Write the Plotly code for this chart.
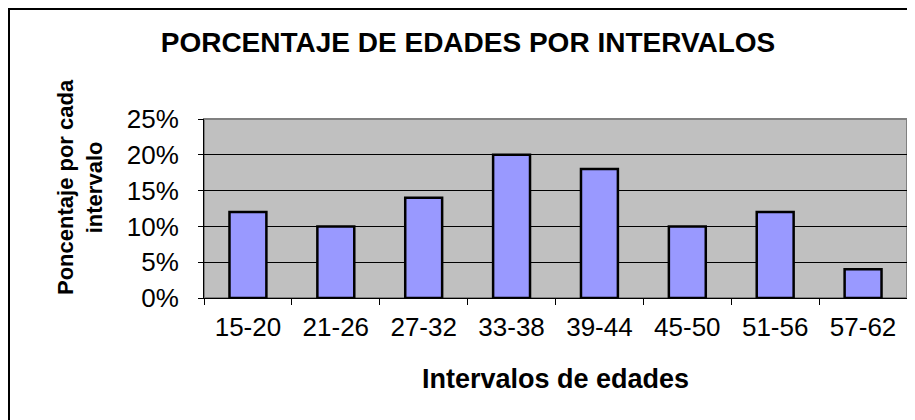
import plotly.graph_objects as go

categories = ["15-20", "21-26", "27-32", "33-38", "39-44", "45-50", "51-56", "57-62"]
values = [0.12, 0.10, 0.14, 0.20, 0.18, 0.10, 0.12, 0.04]
y_ticks = [0, 0.05, 0.10, 0.15, 0.20, 0.25]

title_text = "PORCENTAJE DE EDADES POR INTERVALOS"
x_title = "Intervalos de edades"
y_title = "Poncentaje por cada<br>intervalo"

FONT = "Liberation Sans, Arial, sans-serif"

# page offset (body margin) compensation
OFF = 8
W, H = 915, 420
L, R, T, B = 204 - OFF, 907 - OFF, 119 - OFF, 298 - OFF
pw, ph = R - L, B - T

def px_x(x):
    return (x - OFF - L) / pw

def px_y(y):
    return (B - (y - OFF)) / ph

fig = go.Figure()
fig.add_trace(go.Bar(
    x=categories, y=values, width=0.42,
    marker=dict(color="#9999FF", line=dict(color="#000000", width=2.5)),
))

fig.update_layout(
    width=W, height=H,
    margin=dict(l=L, r=W - R, t=T, b=H - B, pad=0),
    paper_bgcolor="#FFFFFF",
    plot_bgcolor="#C0C0C0",
    showlegend=False,
    font=dict(family=FONT, color="#000000"),
    title=dict(text="<b>" + title_text + "</b>", x=(468 - OFF) / W, xanchor="center",
               y=1 - (42 - OFF) / H, yanchor="middle", xref="container", yref="container",
               font=dict(size=28, family=FONT, color="#000000")),
    xaxis=dict(
        type="category", range=[-0.5, 7.5], tickson="boundaries",
        ticks="outside", ticklen=6, tickcolor="#000000", tickwidth=1,
        showline=True, linecolor="#000000", linewidth=1,
        showgrid=False, zeroline=False,
        tickfont=dict(size=26, family=FONT, color="#000000"),
        ticklabelstandoff=6,
        title=dict(text="<b>" + x_title + "</b>", standoff=27,
                   font=dict(size=27, family=FONT, color="#000000")),
    ),
    yaxis=dict(
        range=[0, 0.25], tickvals=y_ticks, tickformat=".0%",
        ticks="outside", ticklen=5, tickcolor="#000000", tickwidth=1,
        showline=True, linecolor="#000000", linewidth=1,
        showgrid=True, gridcolor="#000000", gridwidth=1, zeroline=False,
        tickfont=dict(size=26, family=FONT, color="#000000"),
        ticklabelstandoff=14,
    ),
    shapes=[
        dict(type="rect", xref="paper", yref="paper",
             x0=px_x(9), x1=px_x(935), y0=px_y(440), y1=px_y(9),
             line=dict(color="#000000", width=2), fillcolor="rgba(0,0,0,0)", layer="above"),
        dict(type="rect", xref="paper", yref="paper",
             x0=0, x1=1, y0=0, y1=1,
             line=dict(color="#808080", width=2), fillcolor="rgba(0,0,0,0)", layer="below"),
    ],
    annotations=[
        dict(text="<b>" + y_title + "</b>", xref="paper", yref="paper",
             x=px_x(80), y=px_y(187), xanchor="center", yanchor="middle",
             textangle=-90, showarrow=False, align="center",
             font=dict(size=22, family=FONT, color="#000000")),
    ],
)

fig.write_html("out.html")
